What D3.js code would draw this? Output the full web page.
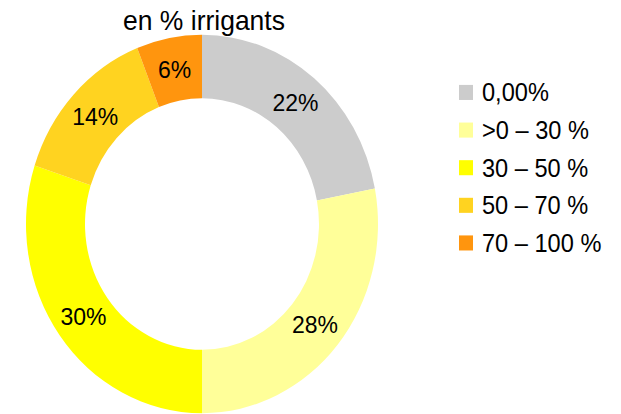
<!DOCTYPE html>
<html>
<head>
<meta charset="utf-8">
<script src="https://cdn.jsdelivr.net/npm/d3@7"></script>
<style>
  body { margin: 0; background: #fff; }
  text { font-family: "Liberation Sans", Arial, sans-serif; fill: #000; }
</style>
</head>
<body>
<div id="chart"></div>
<script>
const title = "en % irrigants";
const categories = ["0,00%", ">0 – 30 %", "30 – 50 %", "50 – 70 %", "70 – 100 %"];
const values = [22, 28, 30, 14, 6];
const colors = ["#cccccc", "#ffff99", "#ffff00", "#ffd320", "#ff950e"];

const W = 621, H = 414;
const sy = 1.075; // the reference is stretched vertically
const cx = 202, cy = 208.4, outerR = 176, innerR = 117;

const svg = d3.select("#chart")
    .append("svg")
    .attr("width", W)
    .attr("height", H);

const root = svg.append("g")
    .attr("transform", `scale(1,${sy})`);

const data = categories.map((c, i) => ({ cat: c, value: values[i], color: colors[i] }));

const pie = d3.pie()
    .sort(null)
    .value(d => d.value);

const arc = d3.arc()
    .innerRadius(innerR)
    .outerRadius(outerR);

const arcs = pie(data);

const donut = root.append("g")
    .attr("transform", `translate(${cx},${cy})`);

donut.selectAll("path")
    .data(arcs)
    .enter().append("path")
    .attr("d", arc)
    .attr("fill", d => d.data.color);

donut.selectAll("text")
    .data(arcs)
    .enter().append("text")
    .attr("transform", d => `translate(${arc.centroid(d)})`)
    .attr("text-anchor", "middle")
    .attr("dominant-baseline", "central")
    .style("font-size", "23px")
    .text(d => d.data.value + "%");

// Title
root.append("text")
    .attr("x", 204)
    .attr("y", 28)
    .attr("text-anchor", "middle")
    .style("font-size", "26.5px")
    .text(title);

// Legend
const legend = root.append("g")
    .attr("transform", "translate(459, 86)");

data.forEach((d, i) => {
    let g = legend.append("g").attr("transform", `translate(0, ${i * 35})`);
    g.append("rect").attr("x", 0).attr("y", -7).attr("width", 14).attr("height", 14).attr("fill", d.color);
    g.append("text").attr("x", 23).attr("y", 0)
        .attr("dominant-baseline", "central")
        .style("font-size", "23.6px")
        .text(d.cat);
});
</script>
</body>
</html>
